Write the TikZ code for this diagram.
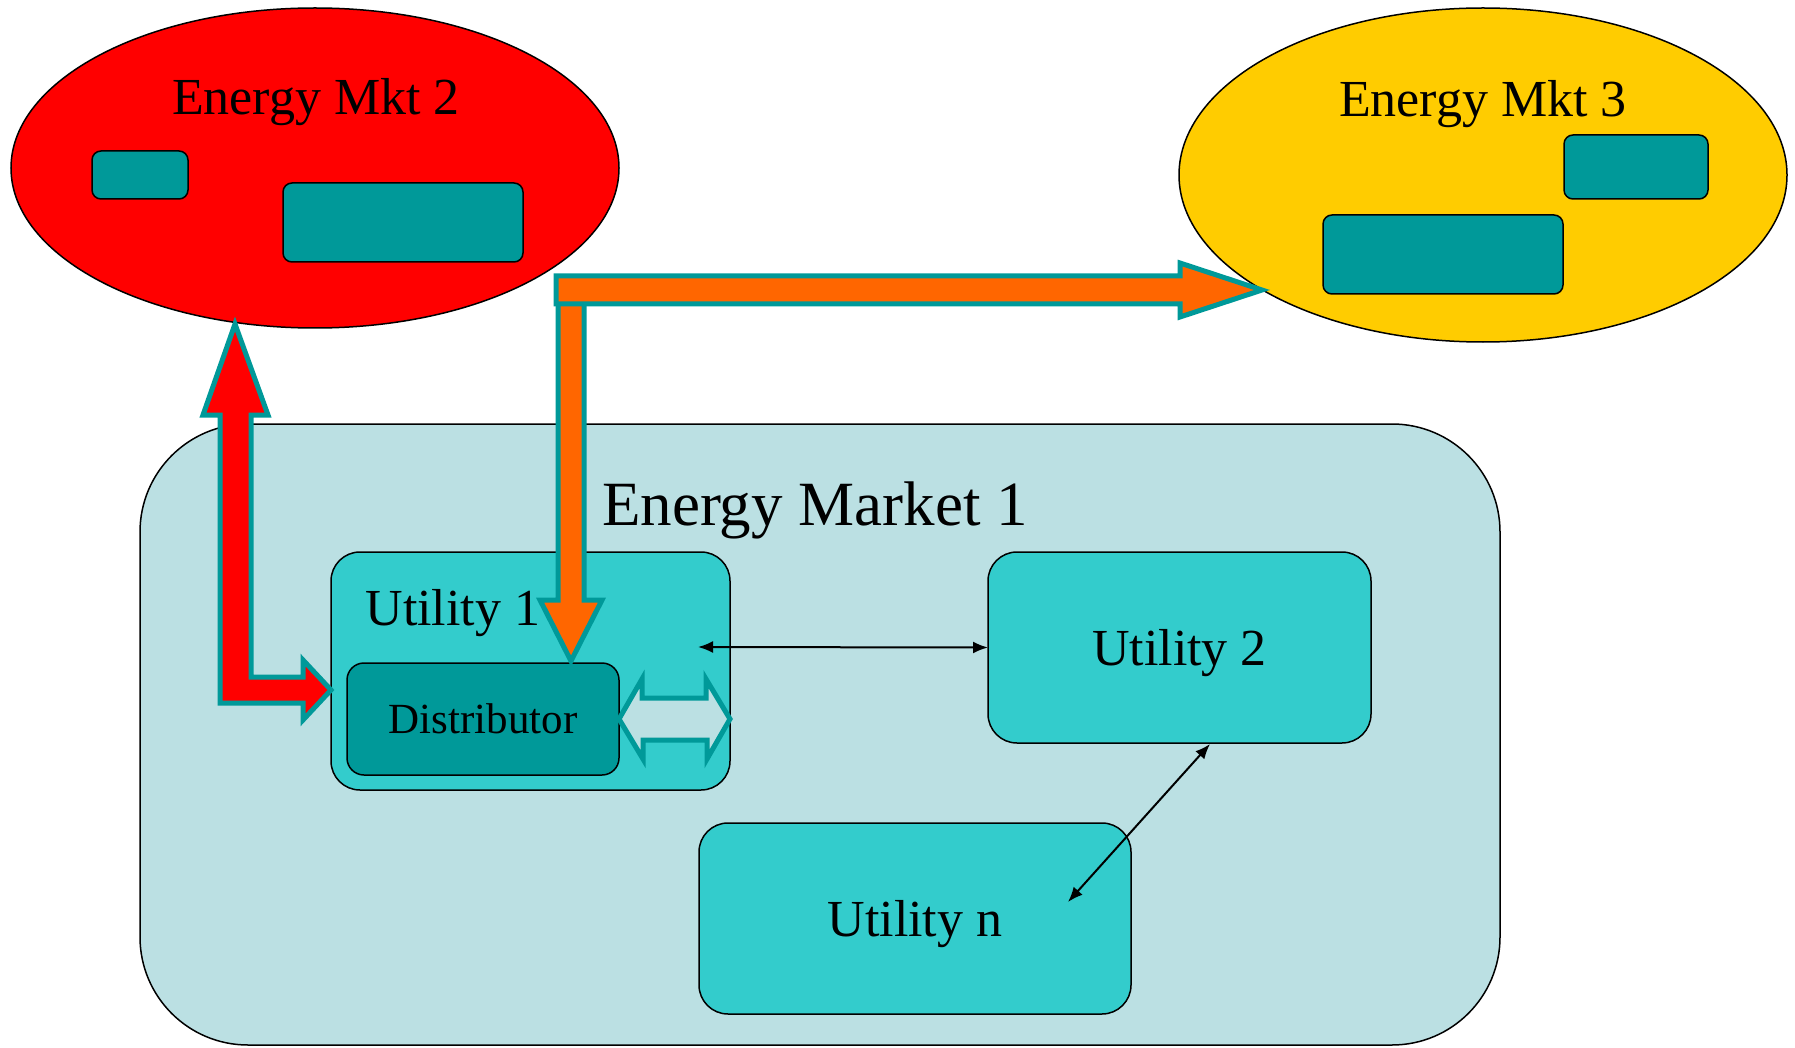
\documentclass[tikz,border=0pt]{standalone}
\usepackage{fontspec}
\setmainfont{Liberation Serif}
\usetikzlibrary{arrows.meta, shapes.geometric}
\definecolor{mktred}{HTML}{FF0000}
\definecolor{mktyellow}{HTML}{FFCC00}
\definecolor{tealbox}{HTML}{009999}
\definecolor{mktblue}{HTML}{BBE0E3}
\definecolor{utilcyan}{HTML}{33CCCC}
\definecolor{flow}{HTML}{FF6600}
\begin{document}
\begin{tikzpicture}[x=1pt, y=-1pt,
  mkt/.style = {draw, ellipse, line width=1.5pt, inner sep=0pt, outer sep=0pt},
  box/.style = {draw, rounded corners=29pt, fill=utilcyan, line width=1.5pt,
        inner sep=0pt, outer sep=0pt, align=center},
  tbox/.style = {draw, rounded corners=9pt, fill=tealbox, line width=1.5pt,
        inner sep=0pt, outer sep=0pt},
  fat/.style = {draw=tealbox, line width=5pt, line join=miter},
  thin/.style = {line width=2pt, {Latex[length=15pt,width=12pt]}-{Latex[length=15pt,width=12pt]}},
  big/.style = {font=\fontsize{63}{70}\selectfont, text depth=0pt},
  mid/.style = {font=\fontsize{52}{60}\selectfont, text depth=0pt}]
 \useasboundingbox (0,0) rectangle (1795,1048);

 % the two outer markets
 \node[mkt, fill=mktred, minimum width=608pt, minimum height=320pt] (m2) at (315,168) {};
 \node[mkt, fill=mktyellow, minimum width=608pt, minimum height=334pt] (m3) at (1483,175) {};
 \node[mid] (m2lab) at (316,96) {Energy Mkt 2};
 \node[mid] (m3lab) at (1483,98) {Energy Mkt 3};
 \node[tbox, minimum width=96pt, minimum height=48pt] (m2a) at (140,175) {};
 \node[tbox, minimum width=240pt, minimum height=79pt] (m2b) at (403,222.5) {};
 \node[tbox, minimum width=144pt, minimum height=64pt] (m3a) at (1636,167) {};
 \node[tbox, minimum width=240pt, minimum height=79pt] (m3b) at (1443,254.5) {};

 % energy market 1
 \node[box, rounded corners=108pt, fill=mktblue, minimum width=1360pt,
       minimum height=621pt] (mk1) at (820,734.5) {};
 \node[big] (mk1lab) at (815,504) {Energy Market 1};
 \node[box, minimum width=399pt, minimum height=238pt] (u1) at (530.5,671) {};
 \node[mid, anchor=west] (u1lab) at (362,607) {Utility 1};
 \node[box, rounded corners=17pt, fill=tealbox, minimum width=272pt, minimum height=112pt,
       font=\fontsize{43}{50}\selectfont] (dist) at (483,719) {Distributor};
 \node[box, mid, minimum width=383pt, minimum height=191pt] (u2) at (1179.5,647.5) {Utility 2};
 \node[box, mid, minimum width=432pt, minimum height=191pt] (un) at (915,918.5) {Utility n};

 \coordinate (u1in) at (698,647);
 \coordinate (u2s) at (1210,744);
 \coordinate (unin) at (1068,902);
 \coordinate (redtip) at (235,324);
 \coordinate (orgtop) at (558,290);
 \coordinate (orgleft) at (556,276);

 % thin links between utilities
 \draw[thin] (u1in) -- (u2.west);
 \draw[thin] (u2s) -- (unin);

 % distributor <-> utility 1
 \draw[fat, fill=mktblue] (dist.east) -- ++(23,-40) -- ++(0,19) -- ++(64,0) -- ++(0,-19)
   -- (u1.east |- dist.east) -- ++(-23,40) -- ++(0,-19) -- ++(-64,0) -- ++(0,19) -- cycle;

 % market 2 <-> utility 1
 \draw[fat, fill=mktred] (redtip) -- ++(33,91) -- ++(-17,0) -- ++(0,262) -- ++(52,0)
   -- ++(0,-17) -- (u1.west |- 0,690) -- ++(-28,30) -- ++(0,-17) -- ++(-83,0)
   -- ++(0,-288) -- ++(-17,0) -- cycle;

 % utility 1 -> market 3
 \draw[fat, fill=flow] (orgtop) -- ++(26,0) -- ++(0,310) -- ++(18,0) -- ++(-31,61)
   -- ++(-31,-61) -- ++(18,0) -- cycle;
 \draw[fat, fill=flow] (orgleft) -- ++(624,0) -- ++(0,-13) -- ++(82,27) -- ++(-82,27)
   -- ++(0,-13) -- ++(-624,0) -- cycle;
\end{tikzpicture}
\end{document}
